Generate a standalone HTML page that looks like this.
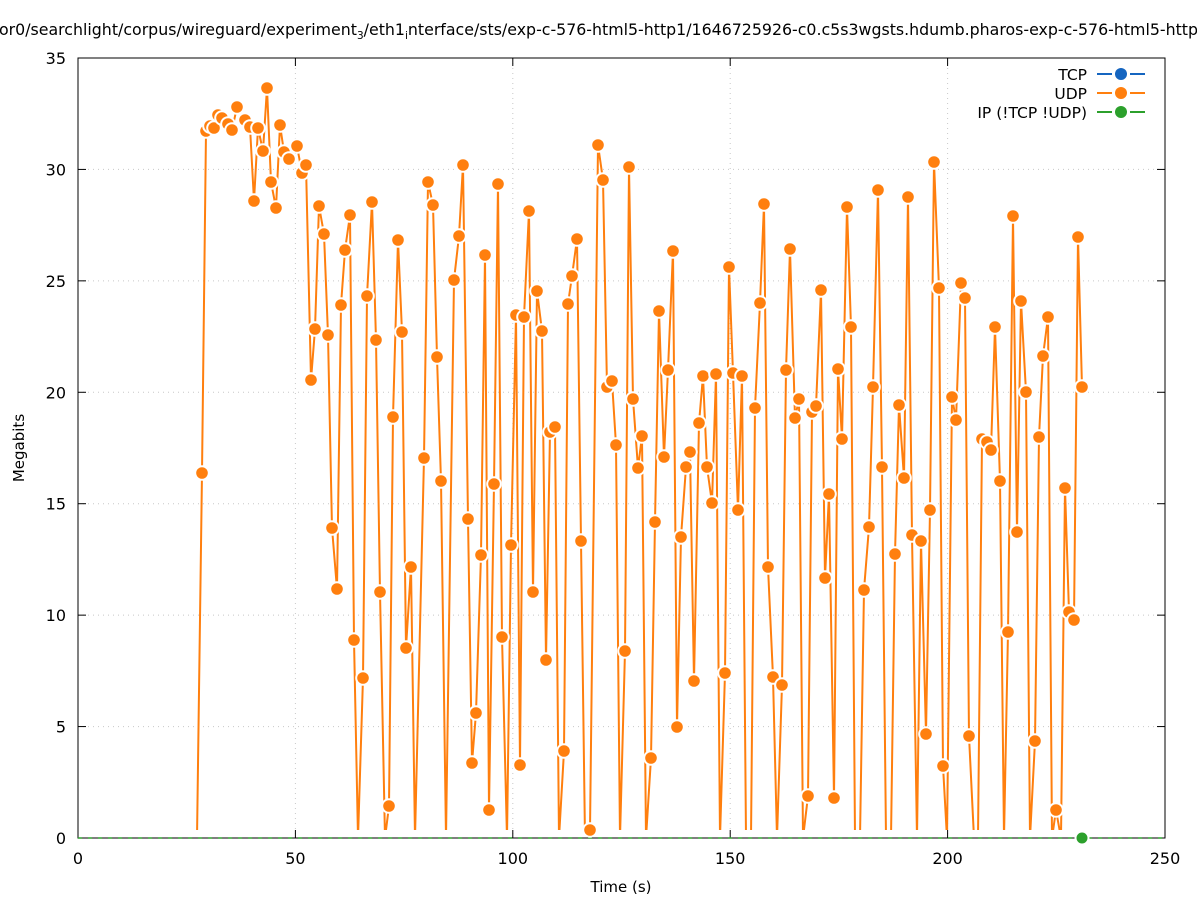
<!DOCTYPE html>
<html><head><meta charset="utf-8"><style>
html,body{margin:0;padding:0;background:#fff;width:1197px;height:900px;overflow:hidden}
svg{display:block;font-family:"DejaVu Sans","Liberation Sans",sans-serif}
</style></head><body>
<svg id="s" width="1197" height="900" viewBox="0 0 1197 900">
<defs><clipPath id="c"><rect x="78" y="40" width="1087" height="790"/></clipPath></defs>
<g id="grid" stroke="#c8c8c8" stroke-width="1" stroke-dasharray="1,4"></g>
<rect x="78" y="58" width="1087" height="780" fill="none" stroke="#000" stroke-width="1"/>
<g id="ticks" stroke="#000" stroke-width="1"></g>
<g id="lbl" font-size="16" fill="#000"></g>
<text x="-1" y="35" font-size="15.8">or0/searchlight/corpus/wireguard/experiment<tspan font-size="10.5" dy="4">3</tspan><tspan dy="-4">/eth1</tspan><tspan font-size="10.5" dy="4">i</tspan><tspan dy="-4">nterface/sts/exp-c-576-html5-http1/1646725926-c0.c5s3wgsts.hdumb.pharos-exp-c-576-html5-http1</tspan></text>
<text x="621" y="892" font-size="15" text-anchor="middle">Time (s)</text>
<text x="24" y="448" font-size="15" text-anchor="middle" transform="rotate(-90 24 448)">Megabits</text>
<line x1="78" y1="838" x2="1165" y2="838" stroke="#2ca02c" stroke-width="1.5" stroke-dasharray="4,6"/>
<g clip-path="url(#c)"><path id="p" fill="none" stroke="#ff7f0e" stroke-width="2"/></g>
<g id="m"></g>
<circle cx="1082" cy="838" r="6.5" fill="#2ca02c" stroke="#fff" stroke-width="2"/>
<g font-size="15.5" text-anchor="end">
<text x="1087" y="80">TCP</text><text x="1087" y="99">UDP</text><text x="1087" y="118">IP (!TCP  !UDP)</text>
</g>
<g stroke-width="2">
<line x1="1097" y1="74" x2="1112" y2="74" stroke="#1565c0"/><line x1="1130" y1="74" x2="1145" y2="74" stroke="#1565c0"/><circle cx="1121" cy="74" r="6" fill="#1565c0"/>
<line x1="1097" y1="93" x2="1112" y2="93" stroke="#ff7f0e"/><line x1="1130" y1="93" x2="1145" y2="93" stroke="#ff7f0e"/><circle cx="1121" cy="93" r="6" fill="#ff7f0e"/>
<line x1="1097" y1="112" x2="1112" y2="112" stroke="#2ca02c"/><line x1="1130" y1="112" x2="1145" y2="112" stroke="#2ca02c"/><circle cx="1121" cy="112" r="6" fill="#2ca02c"/>
</g>
</svg>
<script>
var NS="http://www.w3.org/2000/svg";
function el(t,a,p,txt){var e=document.createElementNS(NS,t);for(var k in a)e.setAttribute(k,a[k]);if(txt!==undefined)e.textContent=txt;document.getElementById(p).appendChild(e);return e;}
for(var i=0;i<=5;i++){var x=78+i*217.4;if(i>0&&i<5)el('line',{x1:x,y1:58,x2:x,y2:838},'grid');el('text',{x:x,y:864,'text-anchor':'middle'},'lbl',String(i*50));el('line',{x1:x,y1:838,x2:x,y2:830},'ticks');el('line',{x1:x,y1:58,x2:x,y2:66},'ticks');}
for(var j=0;j<=7;j++){var y=838-j*111.43;if(j>0&&j<7)el('line',{x1:78,y1:y,x2:1165,y2:y},'grid');el('text',{x:66,y:y+6,'text-anchor':'end'},'lbl',String(j*5));el('line',{x1:78,y1:y,x2:86,y2:y},'ticks');el('line',{x1:1165,y1:y,x2:1157,y2:y},'ticks');}
var d="197 0,202 473,206 131,210 126,214 128,218 115,222 118,228 124,232 130,237 107,245 120,250 127,254 201,258 128,263 151,267 88,271 182,276 208,280 125,284 152,289 159,297 146,302 173,306 165,311 380,315 329,319 206,324 234,328 335,332 528,337 589,341 305,345 250,350 215,354 640,358 0,363 678,367 296,372 202,376 340,380 592,385 0,389 806,393 417,398 240,402 332,406 648,411 567,415 0,424 458,428 182,433 205,437 357,441 481,446 0,454 280,459 236,463 165,468 519,472 763,476 713,481 555,485 255,489 810,494 484,498 184,502 637,507 0,511 545,516 315,520 765,524 317,529 211,533 592,537 291,542 331,546 660,550 432,555 427,559 0,564 751,568 304,572 276,577 239,581 541,585 0,590 830,598 145,603 180,607 387,612 381,616 445,620 0,625 651,629 167,633 399,638 468,642 436,646 0,651 758,655 522,659 311,664 457,668 370,673 251,677 727,681 537,686 467,690 452,694 681,699 423,703 376,707 467,712 503,716 374,720 0,725 673,729 267,733 373,738 510,742 376,746 0,751 0,755 408,760 303,764 204,768 567,773 677,777 0,782 685,786 370,790 249,795 418,799 399,803 0,808 796,812 412,816 406,821 290,825 578,829 494,834 798,838 369,842 439,847 207,851 327,855 0,860 0,864 590,869 527,873 387,878 190,882 467,886 0,891 0,895 554,899 405,904 478,908 197,912 535,917 0,921 541,926 734,930 510,934 162,939 288,943 766,947 0,952 397,956 420,961 283,965 298,969 736,974 0,978 0,982 439,987 442,991 450,995 327,1000 481,1004 0,1008 632,1013 216,1017 532,1021 301,1026 392,1030 0,1035 741,1039 437,1043 356,1048 317,1052 0,1056 810,1061 0,1065 488,1069 612,1074 620,1078 237,1082 387".split(",");
var pts=[],s="";
d.forEach(function(q,i){var a=q.trim().split(" ");var x=+a[0],y=+a[1];var z=(y===0);if(z)y=838;s+=(i?"L":"M")+x+","+y;if(!z)pts.push([x,y]);});
document.getElementById('p').setAttribute('d',s);
pts.forEach(function(p){el('circle',{cx:p[0],cy:p[1],r:6.8,fill:'#ff7f0e',stroke:'#fff','stroke-width':2},'m');});
</script>
</body></html>
